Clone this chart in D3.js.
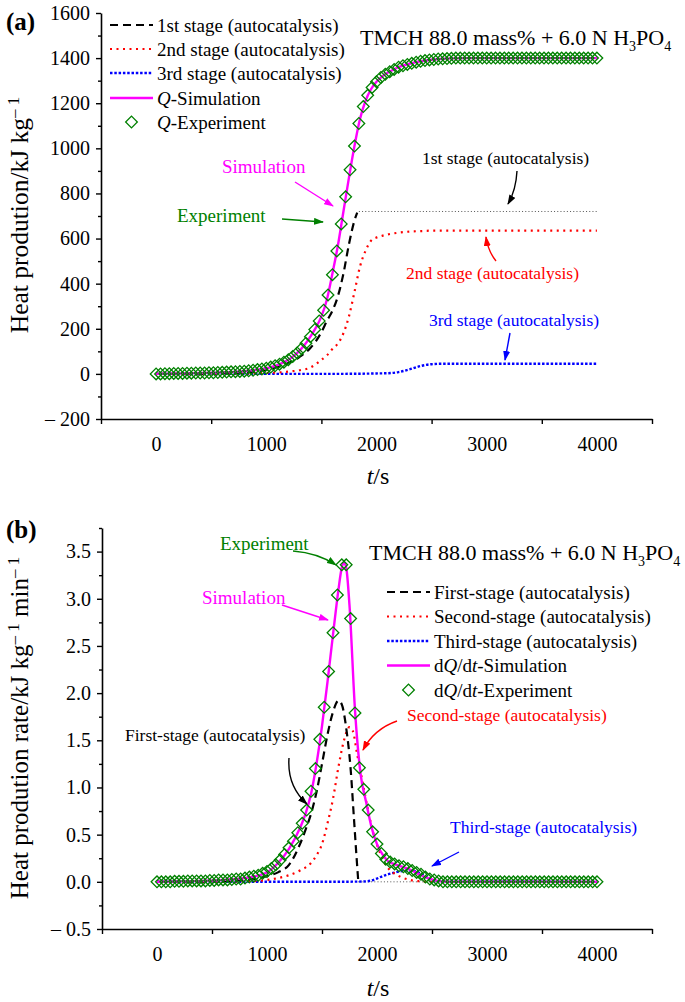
<!DOCTYPE html>
<html><head><meta charset="utf-8">
<script src="https://cdn.jsdelivr.net/npm/d3@7"></script>
<style>body{margin:0;background:#fff}</style>
</head><body><svg id="c" width="685" height="1002"></svg>
<script>
// ---------------- DATA ----------------
// panel (a): heat production Q (kJ/kg) vs t (s)
const qSimTime = [0,100,200,300,400,500,600,700,800,900,1000,1050,1100,1150,1200,1250,1300,1350,1400,1450,1500,1550,1600,1650,1700,1750,1800,1850,1900,1950,2000,2050,2100,2150,2200,2300,2400,2500,2600,2700,2800,3000,3500,4000];
const qSim = [0,1,2,3,4,5,7,9,12,17,25,31,39,50,63,80,102,130,165,205,255,330,445,570,720,870,1010,1130,1210,1262,1295,1318,1335,1348,1360,1375,1386,1393,1397,1399,1400,1400,1400,1400];
const q1Time = [0,500,800,1000,1100,1200,1300,1400,1450,1500,1550,1600,1650,1700,1750,1800,1825];
const q1 = [0,2,6,18,30,48,75,115,145,185,235,280,345,445,575,680,715];
const q1PlateauTime = [1840,4000];
const q1Plateau = [720,720];
const q2Time = [0,500,1000,1100,1200,1300,1400,1500,1550,1600,1650,1700,1750,1800,1850,1900,1950,2000,2050,2100,2200,2300,2400,2500,3000,4000];
const q2 = [0,1,4,6,10,16,28,62,82,110,135,180,255,363,475,545,590,605,612,618,626,631,633,635,635,635];
const q3Time = [0,1000,1500,1800,1900,2000,2100,2200,2300,2400,2500,2600,3000,4000];
const q3 = [0,0,0,0.5,1,2,3,8,20,35,43,45,45,45];
const expTime = [0,40,80,120,160,200,240,280,320,360,400,440,480,520,560,600,640,680,720,760,800,840,880,920,960,1000,1040,1080,1120,1160,1200,1240,1280,1320,1360,1400,1440,1480,1520,1560,1600,1640,1680,1720,1760,1800,1840,1880,1920,1960,2000,2040,2080,2120,2160,2200,2240,2280,2320,2360,2400,2440,2480,2520,2560,2600,2640,2680,2720,2760,2800,2840,2880,2920,2960,3000,3040,3080,3120,3160,3200,3240,3280,3320,3360,3400,3440,3480,3520,3560,3600,3640,3680,3720,3760,3800,3840,3880,3920,3960,4000];
const qExp = [0,0,1,1,2,2,2,3,3,4,4,4,5,5,6,7,8,9,10,11,12,14,16,19,22,
  25,30,36,43,52,63,77,93,112,136,165,197,235,282,350,440,545,665,785,905,1010,1110,1185,1235,1270,1295,1314,1329,1340,1350,1360,1366,1372,1377,1382,1386,1389,1392,1394,1396,1397,1398,1399,
  1400,1400,1400,1400,1400,1400,1400,1400,1400,1400,1400,1400,1400,1400,1400,1400,1400,1400,1400,1400,1400,1400,1400,1400,1400,1400,1400,1400,1400,1400,1400,1400,1400];

// panel (b): heat production rate vs t (s)
const rSimTime = [0,400,600,800,900,1000,1100,1200,1300,1350,1400,1450,1500,1550,1600,1650,1680,1700,1720,1750,1800,1850,1900,1950,2000,2050,2100,2150,2200,2250,2300,2350,2400,2450,2500,2550,2600,2700,4000];
const rSim = [0,0.01,0.02,0.04,0.06,0.1,0.2,0.35,0.57,0.72,0.93,1.25,1.65,2.12,2.62,3.1,3.33,3.38,3.33,2.93,1.82,1.15,0.85,0.58,0.4,0.29,0.22,0.19,0.17,0.15,0.13,0.1,0.07,0.045,0.025,0.01,0.003,0,0];
const r1Time = [0,500,800,1000,1100,1200,1300,1350,1400,1450,1500,1550,1600,1650,1680,1720,1760,1790,1810,1830];
const r1 = [0,0.005,0.02,0.06,0.1,0.18,0.4,0.55,0.72,0.95,1.25,1.56,1.8,1.92,1.88,1.63,1.2,0.68,0.33,0];
const r1TailTime = [1830,4000];
const r1Tail = [0,0];
const r2Time = [0,800,1000,1100,1200,1300,1400,1450,1500,1550,1600,1650,1700,1750,1780,1820,1870,1920,1970,2020,2070,2120,2170,2220,2300,2400,2500];
const r2 = [0,0.005,0.02,0.04,0.07,0.12,0.2,0.28,0.4,0.62,0.88,1.22,1.5,1.64,1.6,1.35,1.05,0.75,0.5,0.33,0.2,0.12,0.08,0.05,0.02,0.005,0];
const r3Time = [0,1000,1500,1800,1900,1950,2000,2050,2100,2150,2200,2250,2300,2350,2400,2450,2500,2550,2600,4000];
const r3 = [0,0,0,0.002,0.005,0.015,0.035,0.06,0.08,0.095,0.108,0.118,0.12,0.11,0.085,0.05,0.02,0.005,0,0];
const rExp = [0,0,0,0,0.005,0.005,0.005,0.01,0.01,0.01,0.01,0.01,0.015,0.015,0.02,0.02,0.02,0.025,0.03,0.03,
  0.04,0.05,0.06,0.07,0.09,0.11,0.14,0.18,0.23,0.29,0.36,0.43,0.52,0.62,0.76,0.96,1.20,1.51,1.85,2.23,2.64,3.04,3.36,3.36,2.79,1.79,1.21,0.98,0.76,0.53,0.40,0.30,0.24,0.21,0.19,0.17,0.16,0.14,0.12,0.10,0.08,0.05,0.03,0.02,0.01,
  0,0,0,0,0,0,0,0,0,0,0,0,0,0,0,0,0,0,0,0,0,0,0,0,0,0,0,0,0,0,0,0,0,0,0,0];

const xTickMarks = [-500,500,1500,2500,3500,4500];
const xTickLabels = [0,1000,2000,3000,4000];
const yTicksA = [-200,0,200,400,600,800,1000,1200,1400,1600];
const yMinorA = [-100,100,300,500,700,900,1100,1300,1500];
const yTicksB = [-0.5,0,0.5,1,1.5,2,2.5,3,3.5];
const yMinorB = [-0.25,0.25,0.75,1.25,1.75,2.25,2.75,3.25,3.75];

// ---------------- DRAW ----------------
const FONT = "'Liberation Serif','Times New Roman',serif";
const GREEN = '#008000', MAG = '#ff00ff', RED = '#ff0000', BLUE = '#0000ff';
const svg = d3.select('#c').style('font-family', FONT);
const defs = svg.append('defs');
function marker(id, color){
  defs.append('marker').attr('id', id).attr('viewBox','0 0 10 7').attr('refX',9).attr('refY',3.5)
    .attr('markerWidth',10).attr('markerHeight',7).attr('markerUnits','userSpaceOnUse').attr('orient','auto')
    .append('path').attr('d','M0,0 L10,3.5 L0,7 z').attr('fill', color);
}
marker('aK','#000'); marker('aR',RED); marker('aB',BLUE); marker('aM',MAG); marker('aG',GREEN);

const styles = {
  s1: {stroke:'#000', w:2.2, dash:'8,5'},
  s2: {stroke:RED, w:2.2, dash:'2,4.5'},
  s3: {stroke:BLUE, w:2.4, dash:'2.5,1.8'},
  sim:{stroke:MAG, w:2.4, dash:null},
  grey:{stroke:'#555', w:1, dash:'1,2.2'}
};
const DSIZE = 68;

function drawLine(g, x, y, ts, vs, st){
  const pts = ts.map((t,i)=>[t, vs[i]]);
  g.append('path').datum(pts)
    .attr('d', d3.line().x(d=>x(d[0])).y(d=>y(d[1])).curve(d3.curveMonotoneX))
    .attr('fill','none').attr('stroke',st.stroke).attr('stroke-width',st.w)
    .attr('stroke-dasharray',st.dash);
}
function drawDiamonds(g, x, y, ts, vs){
  g.selectAll(null).data(ts.map((t,i)=>[t,vs[i]])).join('path')
    .attr('d', d3.symbol().type(d3.symbolSquare).size(DSIZE))
    .attr('transform', d=>`translate(${x(d[0])},${y(d[1])}) rotate(45)`)
    .attr('fill','none').attr('stroke',GREEN).attr('stroke-width',1.3);
}
function fmt(v){ return v < 0 ? '\u2013 ' + Math.abs(v) : String(v); }

function axes(g, x, y, yTicks, yMinor, yFmt){
  const x0 = x.range()[0], yb = y.range()[0];
  const ya = g.append('g').attr('transform',`translate(${x0},0)`)
    .call(d3.axisLeft(y).tickValues(yTicks).tickSize(5).tickSizeOuter(0).tickPadding(6).tickFormat(yFmt));
  const ym = g.append('g').attr('transform',`translate(${x0},0)`)
    .call(d3.axisLeft(y).tickValues(yMinor).tickSize(3).tickSizeOuter(0).tickFormat(''));
  const xa = g.append('g').attr('transform',`translate(0,${yb})`)
    .call(d3.axisBottom(x).tickValues(xTickMarks).tickSize(5).tickSizeOuter(0).tickFormat(''));
  const xl = g.append('g').attr('transform',`translate(0,${yb})`)
    .call(d3.axisBottom(x).tickValues(xTickLabels).tickSize(0).tickPadding(18).tickFormat(d=>d));
  xl.select('.domain').remove();
  ym.select('.domain').remove();
  [ya,ym,xa,xl].forEach(a=>{
    a.selectAll('.domain').attr('stroke','#000').attr('stroke-width',1.6);
    a.selectAll('.tick line').attr('stroke','#000').attr('stroke-width',1.4);
    a.selectAll('text').attr('font-family',FONT).attr('font-size',20).attr('fill','#000');
  });
}

function text(g, x, y, str, size, color, anchor){
  return g.append('text').attr('x',x).attr('y',y).attr('dy','0.35em')
    .attr('font-size',size).attr('fill',color||'#000').attr('text-anchor',anchor||'start').text(str);
}
function arrow(g, d, color, id){
  g.append('path').attr('d',d).attr('fill','none').attr('stroke',color).attr('stroke-width',1.4)
    .attr('marker-end',`url(#${id})`);
}
function tmch(g, x, y){
  const t = g.append('text').attr('x',x).attr('y',y).attr('dy','0.35em').attr('font-size',22);
  t.append('tspan').text('TMCH 88.0 mass% + 6.0 N H');
  t.append('tspan').attr('dy',6).attr('font-size',14).text('3');
  t.append('tspan').attr('dy',-6).text('PO');
  t.append('tspan').attr('dy',6).attr('font-size',14).text('4');
}
function legendRow(g, x1, x2, y, st, isDiamond){
  if(isDiamond){
    g.append('path').attr('d', d3.symbol().type(d3.symbolSquare).size(DSIZE))
      .attr('transform',`translate(${(x1+x2)/2},${y}) rotate(45)`)
      .attr('fill','none').attr('stroke',GREEN).attr('stroke-width',1.3);
  } else {
    g.append('line').attr('x1',x1).attr('x2',x2).attr('y1',y).attr('y2',y)
      .attr('stroke',st.stroke).attr('stroke-width',st.w).attr('stroke-dasharray',st.dash);
  }
}

// ===== Panel (a) =====
const xA = d3.scaleLinear().domain([-500,4500]).range([101,652]);
const yA = d3.scaleLinear().domain([-200,1600]).range([419,13]);
const gA = svg.append('g');
axes(gA, xA, yA, yTicksA, yMinorA, fmt);
drawLine(gA, xA, yA, q3Time, q3, styles.s3);
drawLine(gA, xA, yA, q2Time, q2, styles.s2);
drawLine(gA, xA, yA, q1PlateauTime, q1Plateau, styles.grey);
drawLine(gA, xA, yA, q1Time, q1, styles.s1);
drawLine(gA, xA, yA, qSimTime, qSim, styles.sim);
drawDiamonds(gA, xA, yA, expTime, qExp);

svg.append('text').attr('x',6).attr('y',30).attr('font-size',25).attr('font-weight','bold').text('(a)');
// y title
const ytA = svg.append('text').attr('transform','translate(28,215) rotate(-90)').attr('text-anchor','middle').attr('font-size',25.5);
ytA.append('tspan').text('Heat prodution/kJ kg');
ytA.append('tspan').attr('dy',-9).attr('font-size',17).text('\u2013 1');
const xtA = svg.append('text').attr('x',378).attr('y',476).attr('dy','0.35em').attr('text-anchor','middle').attr('font-size',24);
xtA.append('tspan').attr('font-style','italic').text('t');
xtA.append('tspan').text('/s');

tmch(svg, 360, 37);
// legend (a)
const legA = [
  {st:styles.s1, label:'1st stage (autocatalysis)'},
  {st:styles.s2, label:'2nd stage (autocatalysis)'},
  {st:styles.s3, label:'3rd stage (autocatalysis)'},
  {st:styles.sim, label:null, it:'Q', rest:'-Simulation'},
  {st:null, diamond:true, it:'Q', rest:'-Experiment'}
];
const legAy = [25,49,73,98,122];
legA.forEach((e,i)=>{
  legendRow(svg, 110, 153, legAy[i], e.st, e.diamond);
  const t = svg.append('text').attr('x',157).attr('y',legAy[i]).attr('dy','0.35em').attr('font-size',19);
  if(e.label) t.text(e.label);
  else { t.append('tspan').attr('font-style','italic').text(e.it); t.append('tspan').text(e.rest); }
});
// annotations (a)
text(svg, 222, 166, 'Simulation', 19, MAG);
arrow(svg, 'M295,182 L333,206', MAG, 'aM');
text(svg, 177, 215, 'Experiment', 19, GREEN);
arrow(svg, 'M282,219 L323,222', GREEN, 'aG');
text(svg, 422, 158, '1st stage (autocatalysis)', 17.5, '#000');
arrow(svg, 'M517,171 Q516,190 508,204', '#000', 'aK');
text(svg, 406, 273, '2nd stage (autocatalysis)', 17.5, RED);
arrow(svg, 'M496,261 Q488,251 486,237', RED, 'aR');
text(svg, 429, 320, '3rd stage (autocatalysis)', 17.5, BLUE);
arrow(svg, 'M510,333 L505,360', BLUE, 'aB');

// ===== Panel (b) =====
const xB = d3.scaleLinear().domain([-500,4500]).range([102,652]);
const yB = d3.scaleLinear().domain([-0.5,3.75]).range([929,528]);
const gB = svg.append('g');
axes(gB, xB, yB, yTicksB, yMinorB, v => v < 0 ? '\u2013 ' + Math.abs(v).toFixed(1) : v.toFixed(1));
drawLine(gB, xB, yB, r1TailTime, r1Tail, styles.grey);
drawLine(gB, xB, yB, r3Time, r3, styles.s3);
drawLine(gB, xB, yB, r2Time, r2, styles.s2);
drawLine(gB, xB, yB, r1Time, r1, styles.s1);
drawLine(gB, xB, yB, rSimTime, rSim, styles.sim);
drawDiamonds(gB, xB, yB, expTime, rExp);

svg.append('text').attr('x',6).attr('y',538).attr('font-size',25).attr('font-weight','bold').text('(b)');
const ytB = svg.append('text').attr('transform','translate(28,728) rotate(-90)').attr('text-anchor','middle').attr('font-size',25);
ytB.append('tspan').text('Heat prodution rate/kJ kg');
ytB.append('tspan').attr('dy',-9).attr('font-size',17).text('\u2013 1');
ytB.append('tspan').attr('dy',9).text(' min');
ytB.append('tspan').attr('dy',-9).attr('font-size',17).text('\u2013 1');
const xtB = svg.append('text').attr('x',378).attr('y',988).attr('dy','0.35em').attr('text-anchor','middle').attr('font-size',24);
xtB.append('tspan').attr('font-style','italic').text('t');
xtB.append('tspan').text('/s');

tmch(svg, 369, 552);
const legB = [
  {st:styles.s1, label:'First-stage (autocatalysis)'},
  {st:styles.s2, label:'Second-stage (autocatalysis)'},
  {st:styles.s3, label:'Third-stage (autocatalysis)'},
  {st:styles.sim, sim:true, rest:'-Simulation'},
  {st:null, diamond:true, rest:'-Experiment'}
];
const legBy = [592,616.5,641,665.5,690];
legB.forEach((e,i)=>{
  legendRow(svg, 387, 430, legBy[i], e.st, e.diamond);
  const t = svg.append('text').attr('x',434).attr('y',legBy[i]).attr('dy','0.35em').attr('font-size',19);
  if(e.label) t.text(e.label);
  else {
    t.append('tspan').text('d'); t.append('tspan').attr('font-style','italic').text('Q');
    t.append('tspan').text('/d'); t.append('tspan').attr('font-style','italic').text('t');
    t.append('tspan').text(e.rest);
  }
});
text(svg, 220, 543, 'Experiment', 19, GREEN);
arrow(svg, 'M293,551 Q318,553 336,565', GREEN, 'aG');
text(svg, 202, 597, 'Simulation', 19, MAG);
arrow(svg, 'M282,605 L328,620', MAG, 'aM');
text(svg, 125, 735, 'First-stage (autocatalysis)', 17.5, '#000');
arrow(svg, 'M289,758 Q287,786 307,804', '#000', 'aK');
text(svg, 407, 715, 'Second-stage (autocatalysis)', 17.5, RED);
arrow(svg, 'M397,721 Q374,729 363,750', RED, 'aR');
text(svg, 450, 827, 'Third-stage (autocatalysis)', 17.5, BLUE);
arrow(svg, 'M459,852 L432,866', BLUE, 'aB');
</script>
</body></html>
